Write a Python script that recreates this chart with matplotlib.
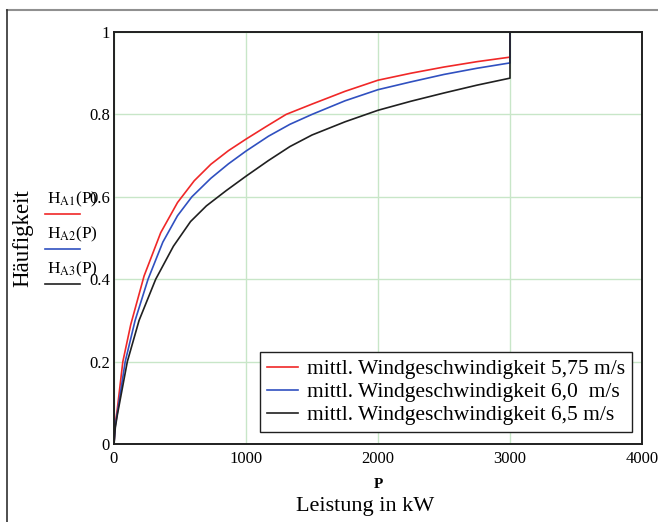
import numpy as np
import matplotlib.pyplot as plt
from matplotlib.lines import Line2D

plt.rcParams['font.family'] = ['Liberation Serif', 'DejaVu Serif']

# Leistung P in kW und Haeufigkeit H
P_A1 = [0, 10, 25, 67, 127, 228, 354, 481, 608, 734, 867, 1000, 1150, 1304, 1500, 1750, 2000, 2250, 2500, 2750, 3000, 3000, 4000]
H_A1 = [0, 0.05, 0.085, 0.2, 0.29, 0.408, 0.513, 0.586, 0.639, 0.679, 0.712, 0.74, 0.77, 0.8, 0.825, 0.856, 0.883, 0.9, 0.915, 0.928, 0.939, 1.0, 1.0]

P_A2 = [0, 10, 25, 85, 160, 258, 370, 481, 590, 734, 867, 1000, 1170, 1333, 1500, 1750, 2000, 2250, 2500, 2750, 3000, 3000, 4000]
H_A2 = [0, 0.045, 0.075, 0.2, 0.3, 0.4, 0.49, 0.554, 0.6, 0.645, 0.68, 0.711, 0.747, 0.776, 0.8, 0.833, 0.86, 0.879, 0.897, 0.912, 0.925, 1.0, 1.0]

P_A3 = [0, 10, 25, 101, 190, 316, 450, 580, 700, 850, 1000, 1170, 1333, 1500, 1750, 2000, 2250, 2500, 2750, 3000, 3000, 4000]
H_A3 = [0, 0.04, 0.07, 0.2, 0.3, 0.4, 0.48, 0.54, 0.578, 0.615, 0.65, 0.688, 0.722, 0.75, 0.782, 0.81, 0.832, 0.852, 0.871, 0.888, 1.0, 1.0]

labels = ["mittl. Windgeschwindigkeit 5,75 m/s",
          "mittl. Windgeschwindigkeit 6,0  m/s",
          "mittl. Windgeschwindigkeit 6,5 m/s"]
trace_names = ["A1", "A2", "A3"]
farben = ["#f02828", "#3050c0", "#202020"]

fig = plt.figure(figsize=(6.58, 5.22), dpi=100)
ax = fig.add_axes([114/658, 1-444/522, 528/658, 412/522])

for P, H, lab, c in zip([P_A1, P_A2, P_A3], [H_A1, H_A2, H_A3], labels, farben):
    ax.plot(P, H, color=c, lw=1.2, label=lab)

ax.set_xlim(0, 4000)
ax.set_ylim(0, 1)
ax.set_xticks([0, 1000, 2000, 3000, 4000])
ax.set_yticks([0, 0.2, 0.4, 0.6, 0.8, 1])
ax.set_yticklabels(["0", "0.2", "0.4", "0.6", "0.8", "1"])
ax.grid(True, color="#c8e6c8", lw=1)
ax.tick_params(length=0, labelsize=12, pad=3)
ax.tick_params(axis="x", pad=5)
for s in ax.spines.values():
    s.set_linewidth(1.4)
    s.set_color("#202020")

ax.set_xlabel("P", fontsize=11, fontweight="bold", labelpad=8)
fig.text(365/658, 1-506/522, "Leistung in kW", ha="center", va="center", fontsize=16)
fig.text(23/658, 1-238/522, "Häufigkeit", rotation=90, ha="center", va="center", fontsize=16.5)

# Mathcad-Spurnamen links
for i, (n, c) in enumerate(zip(trace_names, farben)):
    y = 1 - (199 + 35*i)/522
    fig.text(47/658, y, r"H$_{\rm %s}$(P)" % n, fontsize=12.5, va="center", ha="left",
             math_fontfamily="stix")
    fig.add_artist(Line2D([45/658, 80/658], [y - 15/522, y - 15/522], color=c, lw=1.2))

leg = ax.legend(loc="lower right", bbox_to_anchor=(0.981, 0.029), borderaxespad=0,
                fontsize=15.5, fancybox=False, framealpha=1, edgecolor="#202020",
                handlelength=1.45, handletextpad=0.4, labelspacing=0.13, borderpad=0.32)
leg.get_frame().set_linewidth(1.0)

# Rahmen
fig.add_artist(Line2D([7/658, 1], [1-10/522, 1-10/522], color="#909090", lw=1.5))
fig.add_artist(Line2D([7/658, 7/658], [0, 1-10/522], color="#303030", lw=1.2))

fig.savefig("out.png", dpi=100)
